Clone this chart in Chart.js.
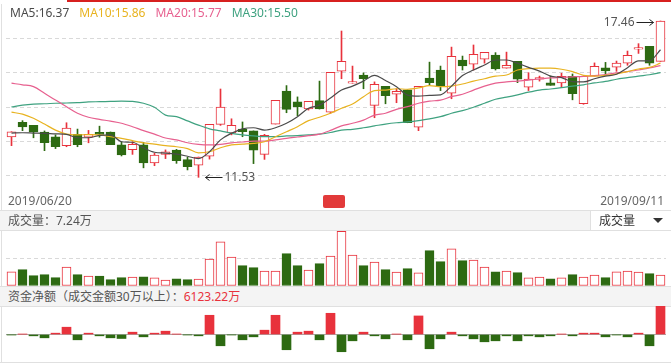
<!DOCTYPE html>
<html>
<head>
<meta charset="utf-8">
<script src="https://cdn.jsdelivr.net/npm/chart.js@4.4.1/dist/chart.umd.min.js"></script>
<style>
  body { margin: 0; background: #fff; font-family: "Noto Sans", "Noto Sans CJK SC", sans-serif; }
  #page { position: relative; width: 671px; height: 363px; overflow: hidden; }
  .abs { position: absolute; white-space: nowrap; }
  .hline { position: absolute; left: 0; width: 671px; height: 1px; background: #e0e0e0; }
  .row { position: absolute; left: 0; width: 671px; height: 19px; background: #f4f4f4; font-size: 12px; color: #555; line-height: 19px; }
  canvas { position: absolute; left: 0; }
</style>
</head>
<body>
<div id="page">
  <div class="abs" style="left:67px;top:0;width:604px;height:2px;background:#d7201f"></div>
  <div class="abs" style="left:1px;top:4px;width:1px;height:359px;background:#e0e0e0"></div>

  <canvas id="kline" width="671" height="211" style="top:0"></canvas>
  <div class="abs" id="maLegend" style="left:10px;top:4px;font-size:12px;line-height:18px"></div>
  <div class="abs" id="dateL" style="left:8px;top:192px;font-size:12px;color:#666"></div>
  <div class="abs" id="dateR" style="right:7px;top:192px;font-size:12px;color:#666"></div>
  <div class="abs" style="left:323px;top:195px;width:22px;height:13px;background:#e23a3a;border-radius:2px"></div>

  <div class="hline" style="top:210px"></div>
  <div class="row" style="top:211px"><span id="volLabel" style="margin-left:8px"></span></div>
  <div class="abs" style="left:590px;top:211px;width:81px;height:19px;background:#fff;border-left:1px solid #e0e0e0;font-size:12px;line-height:19px;color:#333">
    <span style="margin-left:8px">成交量</span>
    <span style="position:absolute;left:62px;top:7px;width:0;height:0;border-left:5px solid transparent;border-right:5px solid transparent;border-top:5px solid #333"></span>
  </div>
  <div class="hline" style="top:230px"></div>
  <canvas id="vol" width="671" height="55" style="top:231px"></canvas>

  <div class="hline" style="top:286px"></div>
  <div class="row" style="top:287px"><span style="margin-left:8px">资金净额（成交金额30万以上）：</span><span id="fundLabel" style="color:#e8323c"></span></div>
  <div class="hline" style="top:306px"></div>
  <canvas id="fund" width="671" height="57" style="top:306px"></canvas>
  <div class="hline" style="top:362px"></div>
</div>

<script>
const dates = ['2019/06/20','2019/06/21','2019/06/24','2019/06/25','2019/06/26','2019/06/27','2019/06/28',
  '2019/07/01','2019/07/02','2019/07/03','2019/07/04','2019/07/05','2019/07/08','2019/07/09','2019/07/10',
  '2019/07/11','2019/07/12','2019/07/15','2019/07/16','2019/07/17','2019/07/18','2019/07/19','2019/07/22',
  '2019/07/23','2019/07/24','2019/07/25','2019/07/26','2019/07/29','2019/07/30','2019/07/31','2019/08/01',
  '2019/08/02','2019/08/05','2019/08/06','2019/08/07','2019/08/08','2019/08/09','2019/08/12','2019/08/13',
  '2019/08/14','2019/08/15','2019/08/16','2019/08/19','2019/08/20','2019/08/21','2019/08/22','2019/08/23',
  '2019/08/26','2019/08/27','2019/08/28','2019/08/29','2019/08/30','2019/09/02','2019/09/03','2019/09/04',
  '2019/09/05','2019/09/06','2019/09/09','2019/09/10','2019/09/11'];

const opens  = [13.06,13.62,13.50,13.25,13.07,12.73,13.16,13.05,13.24,13.25,12.76,12.58,12.76,12.08,12.40,
  12.56,12.20,11.99,12.33,13.54,13.21,13.36,13.29,12.40,13.55,14.80,14.39,14.12,14.44,14.00,
  15.56,15.10,15.41,14.26,14.98,14.68,14.85,13.43,15.29,15.60,14.72,15.98,15.82,16.01,16.17,
  15.67,15.93,14.95,15.25,15.11,15.11,15.36,14.32,15.37,15.68,15.71,15.86,16.39,16.50,15.93];
const highs  = [13.26,13.68,13.50,13.29,13.14,13.60,13.36,13.31,13.47,13.25,12.88,12.88,12.86,12.44,12.57,
  12.59,12.29,12.30,13.54,14.88,13.75,13.63,13.29,13.16,14.45,15.01,14.58,14.41,15.18,15.51,
  17.08,15.75,15.49,15.15,14.98,14.89,14.85,14.98,15.90,15.75,16.47,16.13,16.55,16.27,16.26,
  16.28,15.93,15.50,15.37,15.37,15.48,15.45,15.36,15.87,15.89,15.94,16.32,16.60,16.50,17.46];
const lows   = [12.73,13.30,13.03,12.54,12.62,12.69,12.69,12.84,13.05,12.77,12.34,12.40,11.89,11.97,12.24,
  12.06,11.81,11.53,12.22,13.50,13.14,13.07,12.05,12.21,13.55,13.98,13.87,14.08,14.12,13.96,
  15.27,15.10,14.89,13.79,14.32,14.36,13.60,13.30,15.03,14.82,14.51,15.60,15.60,15.86,15.60,
  15.67,15.12,14.82,15.18,15.02,14.93,14.47,14.30,15.37,15.41,15.55,15.78,16.23,15.78,15.93];
const closes = [13.26,13.44,13.25,12.84,12.69,13.40,12.77,13.16,13.16,12.77,12.38,12.78,12.08,12.37,12.50,
  12.16,11.93,12.30,13.54,14.19,13.50,13.26,12.56,13.12,14.45,14.11,14.21,14.41,14.12,15.51,
  15.93,15.16,15.27,15.06,14.63,14.79,13.60,14.98,15.12,14.97,16.12,15.76,16.20,16.27,15.64,
  15.78,15.25,15.26,15.31,15.02,15.36,14.70,15.36,15.74,15.57,15.86,16.16,16.45,15.86,17.46];

const ma5  = [13.21,13.22,13.21,13.20,13.18,13.16,13.03,13.03,13.12,13.14,12.88,12.86,12.65,12.48,12.45,
  12.41,12.33,12.24,12.50,12.95,13.20,13.37,13.41,13.32,13.41,13.58,13.83,14.15,14.27,14.54,
  14.84,14.99,15.18,15.40,15.20,14.97,14.65,14.61,14.64,14.66,14.99,15.39,15.60,15.79,15.98,
  15.98,15.86,15.70,15.56,15.37,15.31,15.16,15.15,15.27,15.37,15.44,15.69,15.95,15.95,16.37];
const ma10 = [14.00,13.93,13.77,13.55,13.32,13.17,13.14,13.15,13.14,13.07,13.01,12.92,12.84,12.79,12.73,
  12.69,12.62,12.46,12.50,12.65,12.76,12.79,12.82,12.88,13.07,13.26,13.45,13.68,13.81,13.96,
  14.15,14.31,14.59,14.82,14.84,14.89,14.87,14.92,15.01,14.97,14.99,15.07,15.18,15.27,15.37,
  15.41,15.60,15.65,15.67,15.67,15.63,15.54,15.40,15.37,15.40,15.45,15.54,15.64,15.70,15.86];
const ma20 = [15.10,15.04,14.97,14.72,14.46,14.21,13.96,13.81,13.73,13.66,13.58,13.45,13.30,13.17,13.02,
  12.95,12.84,12.78,12.76,12.78,12.84,12.87,12.90,12.90,12.95,13.01,13.06,13.11,13.17,13.31,
  13.48,13.58,13.70,13.89,13.96,14.11,14.21,14.34,14.42,14.46,14.59,14.68,14.84,14.99,15.10,
  15.15,15.18,15.22,15.26,15.30,15.32,15.34,15.36,15.39,15.43,15.49,15.54,15.60,15.68,15.77];
const ma30 = [14.20,14.27,14.31,14.32,14.34,14.35,14.36,14.39,14.40,14.41,14.42,14.41,14.34,14.19,13.89,
  13.83,13.67,13.51,13.37,13.29,13.20,13.14,13.10,13.07,13.07,13.10,13.11,13.14,13.17,13.23,
  13.32,13.35,13.41,13.48,13.55,13.60,13.63,13.68,13.75,13.83,13.96,14.06,14.19,14.34,14.49,
  14.57,14.66,14.76,14.84,14.88,14.93,14.99,15.04,15.11,15.17,15.25,15.31,15.37,15.42,15.50];

// 成交量, 万
const volumes = [9.4,10.8,6.8,7.5,5.5,12.5,7.5,6.6,6.6,4.2,5.5,5.9,6.1,5.3,3.9,
  4.8,4.2,4.6,17.8,29.0,19.1,13.4,12.1,9.9,9.9,21.3,13.4,10.5,14.7,19.7,
  36.0,20.4,13.4,15.8,10.8,9.2,11.4,8.6,23.3,16.0,24.4,16.7,17.1,12.5,9.4,
  9.9,8.8,5.3,5.9,4.8,5.3,7.5,5.9,7.2,5.5,9.4,9.9,9.2,8.1,7.24];

// 资金净额, 万
const fundFlow = [-71,71,-285,-712,285,1566,-1139,285,-285,-712,-854,498,-498,285,712,
  71,-71,-285,4130,-2421,-71,-1139,-498,926,4130,-3275,498,712,-1139,4557,
  -3702,-1353,498,-285,-926,71,-1139,3987,-3062,-926,498,-285,-926,-1566,-1353,
  -285,-1353,-285,-498,-285,71,-285,285,285,-498,-71,-498,285,-2421,6123.22];

const priceMin = 10.29, priceMax = 18.105;
const volMax = 36.2;

const RED = '#e8323c', GREEN = '#2d6a12';
const maColors = ['#4a4a4a', '#e8b320', '#e7608f', '#3fa280'];

Chart.defaults.animation = false;
Chart.defaults.plugins.legend.display = false;
Chart.defaults.plugins.tooltip.enabled = false;

const up = closes.map((c, i) => c >= opens[i]);
const candleEdge = up.map(u => u ? RED : GREEN);
const candleFill = up.map(u => u ? '#ffffff' : GREEN);
const pad = { left: 6, right: 5, top: 0, bottom: 0 };

function evenTicks(n) {
  return s => { s.ticks = Array.from({ length: n + 1 }, (_, k) => ({ value: s.min + k * (s.max - s.min) / n })); };
}

// high / low markers
const extremes = {
  id: 'extremes',
  afterDatasetsDraw(chart) {
    const { ctx, scales: { x, y } } = chart;
    const hi = highs.indexOf(Math.max(...highs));
    const lo = lows.indexOf(Math.min(...lows));
    ctx.save();
    ctx.font = '12px "Noto Sans", sans-serif';
    ctx.strokeStyle = '#222'; ctx.fillStyle = '#555'; ctx.lineWidth = 1;
    ctx.textBaseline = 'middle';

    let px = x.getPixelForValue(hi) - 7, py = Math.round(y.getPixelForValue(highs[hi])) + 1.5;
    ctx.beginPath(); ctx.moveTo(px - 17, py); ctx.lineTo(px, py);
    ctx.moveTo(px - 4, py - 3); ctx.lineTo(px, py); ctx.lineTo(px - 4, py + 3); ctx.stroke();
    ctx.textAlign = 'right'; ctx.fillText(highs[hi].toFixed(2), px - 19, py);

    px = x.getPixelForValue(lo) + 7; py = Math.round(y.getPixelForValue(lows[lo])) + 0.5;
    ctx.beginPath(); ctx.moveTo(px + 17, py); ctx.lineTo(px, py);
    ctx.moveTo(px + 4, py - 3); ctx.lineTo(px, py); ctx.lineTo(px + 4, py + 3); ctx.stroke();
    ctx.textAlign = 'left'; ctx.fillText(lows[lo].toFixed(2), px + 19, py);
    ctx.restore();
  }
};

const maLine = (label, data, color) => ({
  type: 'line', label, data, borderColor: color, borderWidth: 1.2,
  pointRadius: 0, cubicInterpolationMode: 'monotone', order: 0
});

new Chart(document.getElementById('kline'), {
  type: 'bar',
  data: {
    labels: dates,
    datasets: [
      maLine('MA5', ma5, maColors[0]),
      maLine('MA10', ma10, maColors[1]),
      maLine('MA20', ma20, maColors[2]),
      maLine('MA30', ma30, maColors[3]),
      { label: 'body', data: opens.map((o, i) => [o, closes[i]]), backgroundColor: candleFill,
        borderColor: candleEdge, borderWidth: 1, borderSkipped: false, barThickness: 9, grouped: false, order: 2 },
      { label: 'wick', data: lows.map((l, i) => [l, highs[i]]), backgroundColor: candleEdge,
        borderWidth: 0, barThickness: 1, grouped: false, order: 3 }
    ]
  },
  options: {
    responsive: false,
    layout: { padding: { left: 6, right: 5, top: 4, bottom: 1 } },
    scales: {
      x: { display: false, offset: true },
      y: {
        min: priceMin, max: priceMax,
        afterBuildTicks: evenTicks(6),
        afterFit: s => { s.width = 0; },
        ticks: { display: false },
        grid: { drawTicks: false, color: c => (c.index === 0 || c.index === 6) ? 'rgba(0,0,0,0)' : '#d9d9d9' },
        border: { display: false, dash: [4, 3] }
      }
    }
  },
  plugins: [extremes]
});

new Chart(document.getElementById('vol'), {
  type: 'bar',
  data: {
    labels: dates,
    datasets: [{ data: volumes, backgroundColor: candleFill, borderColor: candleEdge,
      borderWidth: 1, borderSkipped: false, barThickness: 9 }]
  },
  options: {
    responsive: false,
    layout: { padding: pad },
    scales: {
      x: { display: false, offset: true },
      y: {
        min: 0, max: volMax,
        afterBuildTicks: evenTicks(2),
        afterFit: s => { s.width = 0; },
        ticks: { display: false },
        grid: { drawTicks: false, color: c => c.index === 1 ? '#d9d9d9' : 'rgba(0,0,0,0)' },
        border: { display: false, dash: [4, 3] }
      }
    }
  }
});

const fundLimit = Math.max(...fundFlow.map(Math.abs));
new Chart(document.getElementById('fund'), {
  type: 'bar',
  data: {
    labels: dates,
    datasets: [{ data: fundFlow, backgroundColor: fundFlow.map(v => v >= 0 ? RED : GREEN),
      borderWidth: 0, barThickness: 9 }]
  },
  options: {
    responsive: false,
    layout: { padding: pad },
    scales: {
      x: { display: false, offset: true },
      y: {
        min: -fundLimit, max: fundLimit,
        afterBuildTicks: s => { s.ticks = [{ value: 0 }]; },
        afterFit: s => { s.width = 0; },
        ticks: { display: false },
        grid: { drawTicks: false, color: '#aaaaaa' },
        border: { display: false }
      }
    }
  }
});

// text labels
const last = a => a[a.length - 1];
document.getElementById('maLegend').innerHTML = [['MA5', ma5], ['MA10', ma10], ['MA20', ma20], ['MA30', ma30]]
  .map(([n, a], i) => `<span style="color:${maColors[i]};margin-right:10px">${n}:${last(a).toFixed(2)}</span>`).join('');
document.getElementById('dateL').textContent = dates[0];
document.getElementById('dateR').textContent = last(dates);
document.getElementById('volLabel').textContent = `成交量：${last(volumes).toFixed(2)}万`;
document.getElementById('fundLabel').textContent = `${last(fundFlow).toFixed(2)}万`;
</script>
</body>
</html>
